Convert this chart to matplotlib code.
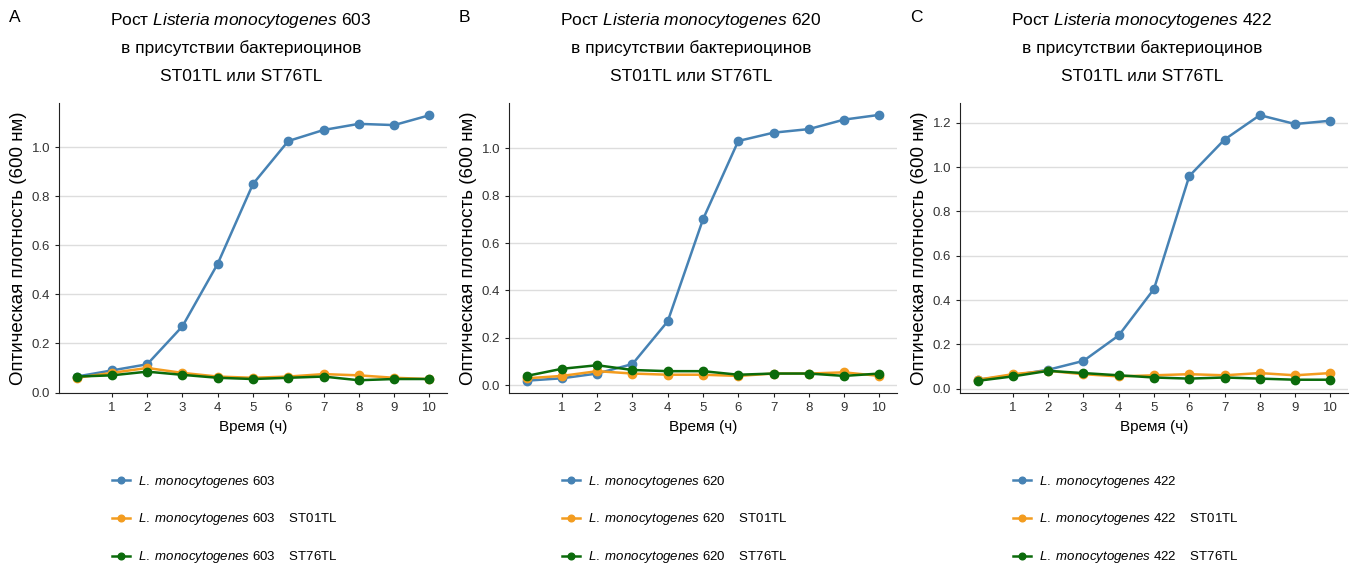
import matplotlib
matplotlib.use("Agg")
import matplotlib.pyplot as plt

plt.rcParams['font.family'] = ['Liberation Sans', 'DejaVu Sans']
plt.rcParams['mathtext.fontset'] = 'custom'
plt.rcParams['mathtext.rm'] = 'Liberation Sans'
plt.rcParams['mathtext.it'] = 'Liberation Sans:italic'

hours = [0, 1, 2, 3, 4, 5, 6, 7, 8, 9, 10]
strains = ['603', '620', '422']
letters = ['A', 'B', 'C']

# optical density, panel A (603)
a_ctrl = [0.065, 0.09, 0.115, 0.27, 0.525, 0.85, 1.025, 1.07, 1.095, 1.09, 1.13]
a_st01 = [0.06, 0.08, 0.10, 0.08, 0.065, 0.06, 0.065, 0.075, 0.07, 0.06, 0.055]
a_st76 = [0.065, 0.07, 0.085, 0.072, 0.06, 0.055, 0.06, 0.065, 0.05, 0.055, 0.055]
# panel B (620)
b_ctrl = [0.02, 0.03, 0.05, 0.09, 0.27, 0.70, 1.03, 1.065, 1.08, 1.12, 1.14]
b_st01 = [0.03, 0.04, 0.06, 0.05, 0.045, 0.045, 0.04, 0.05, 0.05, 0.055, 0.04]
b_st76 = [0.04, 0.07, 0.085, 0.065, 0.06, 0.06, 0.045, 0.05, 0.05, 0.04, 0.05]
# panel C (422)
c_ctrl = [0.04, 0.06, 0.085, 0.125, 0.24, 0.45, 0.96, 1.125, 1.235, 1.195, 1.21]
c_st01 = [0.04, 0.065, 0.08, 0.065, 0.055, 0.06, 0.065, 0.06, 0.07, 0.06, 0.07]
c_st76 = [0.035, 0.055, 0.08, 0.07, 0.06, 0.05, 0.045, 0.05, 0.045, 0.04, 0.04]

panels = [(a_ctrl, a_st01, a_st76), (b_ctrl, b_st01, b_st76), (c_ctrl, c_st01, c_st76)]
ylims = [(-0.002, 1.18), (-0.032, 1.19), (-0.02, 1.29)]
yticks = [[0, 0.2, 0.4, 0.6, 0.8, 1.0], [0, 0.2, 0.4, 0.6, 0.8, 1.0],
          [0, 0.2, 0.4, 0.6, 0.8, 1.0, 1.2]]
colors = ['#4682B4', '#F39C1F', '#0B6B0B']

fig = plt.figure(figsize=(13.56, 5.66), dpi=100)
lefts = [59, 509, 960]

for i in range(3):
    l = lefts[i]
    ax = fig.add_axes([l / 1356, 1 - 393 / 566, 388 / 1356, 290 / 566])
    s = strains[i]
    labels = [r'$\mathit{L.\ monocytogenes}$ ' + s,
              r'$\mathit{L.\ monocytogenes}$ ' + s + '    ST01TL',
              r'$\mathit{L.\ monocytogenes}$ ' + s + '    ST76TL']
    for y, c, lab in zip(panels[i], colors, labels):
        ax.plot(hours, y, color=c, lw=1.8, marker='o', ms=6, label=lab)

    ax.set_xlim(-0.5, 10.5)
    ax.set_ylim(*ylims[i])
    ax.set_xticks(hours[1:])
    ax.set_yticks(yticks[i])
    ax.set_yticklabels([f'{v:.1f}' for v in yticks[i]])
    ax.grid(axis='y', color='#DDDDDD', lw=1)
    ax.set_axisbelow(True)
    for sp in ['top', 'right']:
        ax.spines[sp].set_visible(False)
    ax.spines['left'].set_color('#222222')
    ax.spines['bottom'].set_color('#222222')
    ax.tick_params(labelsize=9.5, labelcolor='#333333', length=3, color='#222222')
    ax.set_xlabel('Время (ч)', fontsize=11, labelpad=4)
    ax.set_ylabel('Оптическая плотность (600 нм)', fontsize=13.5, labelpad=3)

    cx = (l + 182) / 1356
    fig.text(cx, 1 - 20 / 566,
             r'Рост $\mathit{Listeria}$ $\mathit{monocytogenes}$ ' + s,
             ha='center', va='center', fontsize=12.5)
    fig.text(cx, 1 - 48 / 566, 'в присутствии бактериоцинов',
             ha='center', va='center', fontsize=12.5)
    fig.text(cx, 1 - 76 / 566, 'ST01TL или ST76TL',
             ha='center', va='center', fontsize=12.5)
    fig.text((l - 50) / 1356, 1 - 18 / 566, letters[i], ha='left', va='center', fontsize=12.5)

    ax.legend(loc='upper left', bbox_to_anchor=((l + 46) / 1356, 1 - 467 / 566),
              bbox_transform=fig.transFigure, frameon=False, fontsize=9.5,
              labelspacing=1.65, handlelength=1.4, borderpad=0, handletextpad=0.6,
              markerscale=0.8)

fig.savefig('out.png', dpi=100)
